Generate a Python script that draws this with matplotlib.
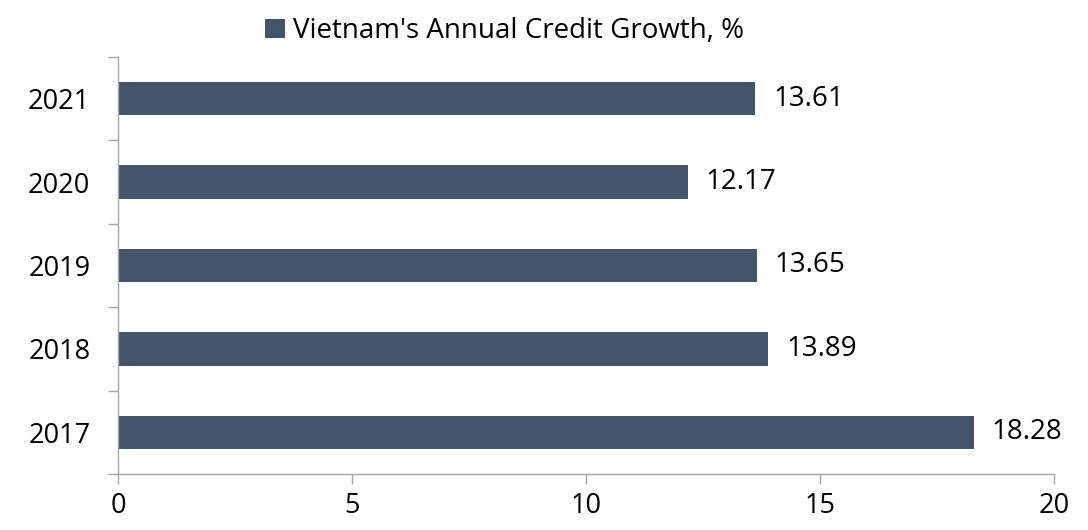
import matplotlib.pyplot as plt
import numpy as np

years = ["2017", "2018", "2019", "2020", "2021"]
growth = [18.28, 13.89, 13.65, 12.17, 13.61]
series_name = "Vietnam's Annual Credit Growth, %"
x_ticks = [0, 5, 10, 15, 20]

bar_color = "#44546A"
axis_color = "#A6A6A6"

plt.rcParams['font.family'] = ['Open Sans', 'DejaVu Sans']

fig = plt.figure(figsize=(10.88, 5.30), dpi=100)
ax = fig.add_axes([0.1085, 0.1057, 0.8603, 0.7868])

pos = np.arange(len(years))
bars = ax.barh(pos, growth, height=0.4, color=bar_color, label=series_name)

for p, v in zip(pos, growth):
    ax.annotate(f"{v:.2f}", xy=(v, p), xytext=(13, 0), textcoords="offset points",
                va="center", ha="left", fontsize=20, color="black")

ax.set_xlim(0, 20)
ax.set_ylim(-0.5, len(years) - 0.5)
ax.set_xticks(x_ticks)
ax.set_yticks(pos)
ax.set_yticklabels(years)
ax.set_yticks(np.arange(-0.5, len(years), 1), minor=True)

ax.tick_params(axis="y", which="major", length=0, pad=20, labelsize=19.5)
ax.tick_params(axis="y", which="minor", length=7, width=1, color=axis_color, direction="out")
ax.tick_params(axis="x", which="major", length=7, width=1, color=axis_color, pad=6, labelsize=19.5)

for side in ["top", "right"]:
    ax.spines[side].set_visible(False)
for side in ["left", "bottom"]:
    ax.spines[side].set_color(axis_color)
    ax.spines[side].set_linewidth(1)

fig.legend(handles=[bars], labels=[series_name], loc="upper center",
           bbox_to_anchor=(0.464, 1.015), frameon=False, fontsize=20,
           handlelength=0.7, handleheight=0.7, handletextpad=0.3)

fig.savefig("out.png", dpi=100)
